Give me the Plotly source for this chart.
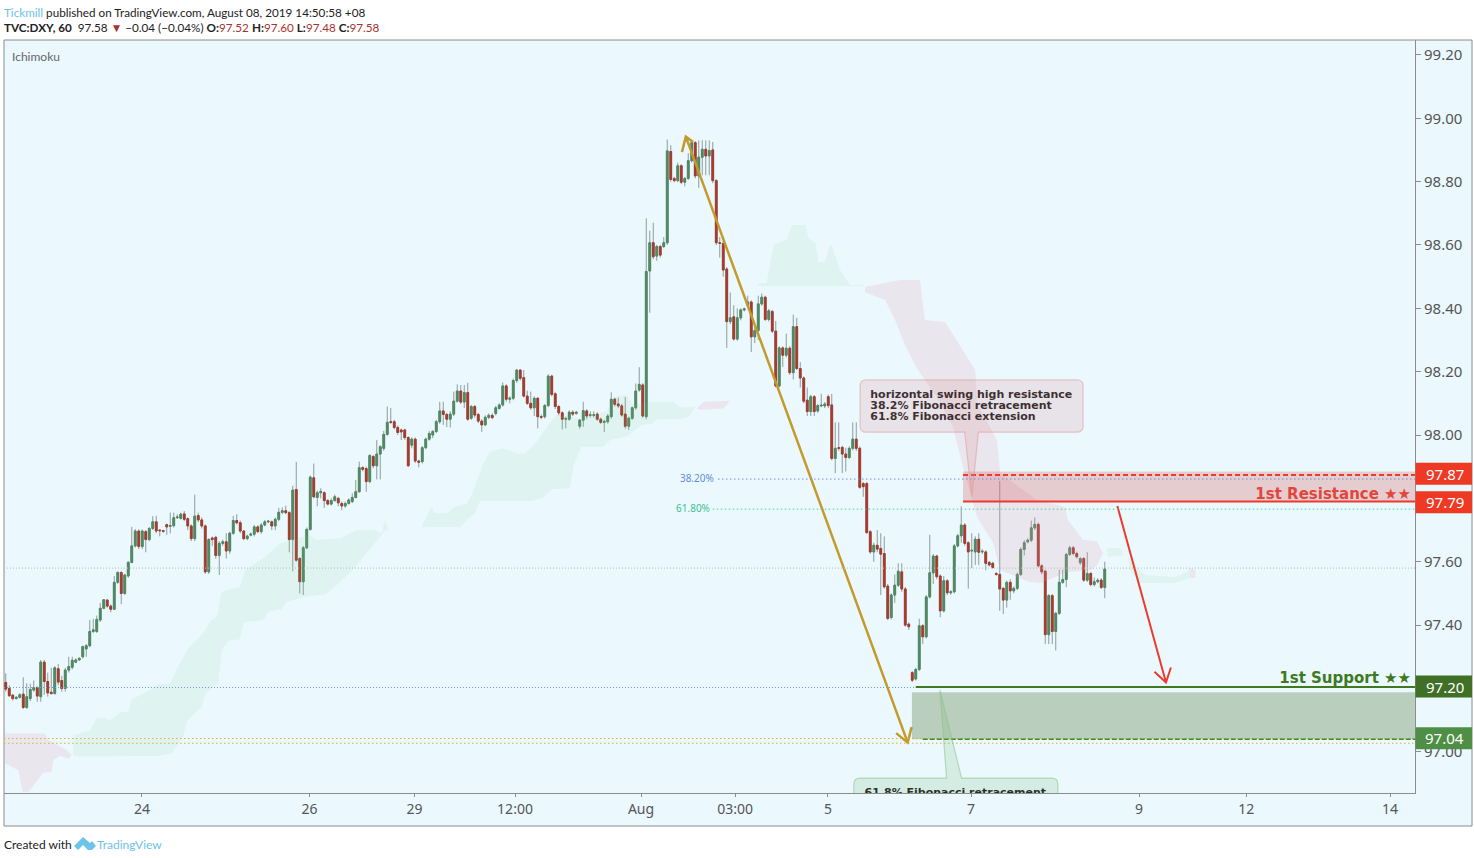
import plotly.graph_objects as go

W, H = 1474, 858
PL, PR, PT, PB = 4, 1415, 40, 793   # plot frame in page pixels
BG = "#ebf9fe"

opens = [
97.219,97.200,97.179,97.168,97.172,97.182,97.140,97.168,97.195,97.203,
97.174,97.283,97.222,97.188,97.184,97.262,97.225,97.200,97.258,97.267,
97.283,97.290,97.300,97.325,97.335,97.380,97.380,97.416,97.453,97.479,
97.460,97.450,97.535,97.566,97.500,97.555,97.598,97.650,97.697,97.648,
97.695,97.670,97.705,97.726,97.700,97.698,97.717,97.712,97.714,97.739,
97.737,97.751,97.736,97.713,97.673,97.746,97.732,97.713,97.568,97.675,
97.677,97.620,97.658,97.663,97.634,97.690,97.730,97.723,97.697,97.673,
97.684,97.687,97.710,97.695,97.716,97.726,97.726,97.713,97.734,97.756,
97.761,97.755,97.670,97.828,97.610,97.537,97.644,97.702,97.865,97.803,
97.818,97.818,97.793,97.782,97.793,97.800,97.784,97.776,97.784,97.790,
97.803,97.821,97.897,97.894,97.853,97.932,97.903,97.940,97.958,98.002,
98.042,98.042,98.024,98.016,98.016,97.992,97.968,97.987,97.918,97.916,
97.960,97.987,98.000,98.011,98.042,98.076,98.065,98.050,98.066,98.107,
98.139,98.104,98.134,98.053,98.090,98.065,98.044,98.032,98.056,98.062,
98.068,98.084,98.095,98.155,98.113,98.116,98.172,98.205,98.181,98.123,
98.100,98.086,98.116,98.058,98.058,98.093,98.186,98.130,98.090,98.070,
98.050,98.050,98.072,98.068,98.028,98.047,98.076,98.062,98.062,98.066,
98.050,98.040,98.042,98.058,98.113,98.098,98.092,98.066,98.028,98.053,
98.086,98.142,98.158,98.058,98.518,98.607,98.565,98.595,98.595,98.607,
98.895,98.810,98.803,98.850,98.798,98.810,98.866,98.923,98.818,98.877,
98.902,98.881,98.900,98.803,98.607,98.605,98.524,98.358,98.373,98.303,
98.370,98.395,98.410,98.420,98.310,98.330,98.414,98.435,98.365,98.390,
98.328,98.155,98.275,98.252,98.274,98.197,98.342,98.210,98.180,98.110,
98.074,98.121,98.076,98.092,98.092,98.121,98.095,97.926,97.960,97.961,
97.940,97.929,97.958,97.987,97.958,97.847,97.847,97.695,97.631,97.652,
97.642,97.626,97.523,97.424,97.495,97.526,97.568,97.514,97.403,97.250,
97.230,97.260,97.398,97.363,97.489,97.565,97.618,97.555,97.445,97.540,
97.502,97.505,97.650,97.682,97.716,97.660,97.634,97.631,97.671,97.631,
97.631,97.598,97.595,97.563,97.560,97.516,97.479,97.535,97.508,97.516,
97.560,97.639,97.663,97.668,97.707,97.718,97.587,97.570,97.370,97.493,
97.380,97.437,97.535,97.544,97.623,97.644,97.626,97.597,97.610,97.542,
97.563,97.528,97.537,97.542,97.519]

closes = [
97.198,97.177,97.168,97.172,97.180,97.140,97.174,97.197,97.203,97.176,
97.283,97.222,97.186,97.184,97.265,97.220,97.200,97.258,97.269,97.289,
97.290,97.295,97.332,97.335,97.380,97.385,97.418,97.453,97.480,97.460,
97.450,97.535,97.566,97.500,97.558,97.598,97.650,97.697,97.648,97.697,
97.670,97.705,97.726,97.697,97.698,97.696,97.710,97.714,97.739,97.741,
97.750,97.734,97.713,97.673,97.744,97.732,97.713,97.568,97.670,97.670,
97.620,97.658,97.663,97.634,97.690,97.730,97.723,97.697,97.673,97.681,
97.687,97.710,97.695,97.716,97.726,97.728,97.713,97.734,97.756,97.761,
97.755,97.670,97.826,97.605,97.537,97.644,97.702,97.867,97.805,97.818,
97.822,97.793,97.782,97.793,97.805,97.786,97.776,97.784,97.795,97.803,
97.821,97.897,97.892,97.853,97.935,97.903,97.940,97.963,98.002,98.040,
98.040,98.024,98.008,98.010,97.992,97.903,97.987,97.918,97.914,97.960,
97.987,98.005,98.011,98.042,98.076,98.065,98.050,98.066,98.107,98.139,
98.104,98.134,98.050,98.090,98.063,98.044,98.032,98.056,98.062,98.055,
98.086,98.095,98.155,98.113,98.116,98.172,98.205,98.179,98.123,98.100,
98.086,98.116,98.058,98.056,98.093,98.186,98.128,98.090,98.070,98.050,
98.052,98.072,98.066,98.072,98.047,98.077,98.060,98.064,98.064,98.050,
98.040,98.043,98.060,98.113,98.097,98.092,98.063,98.028,98.053,98.086,
98.139,98.160,98.060,98.516,98.607,98.563,98.595,98.568,98.607,98.897,
98.807,98.803,98.850,98.798,98.810,98.866,98.923,98.818,98.877,98.902,
98.881,98.898,98.803,98.607,98.605,98.521,98.358,98.370,98.303,98.370,
98.395,98.398,98.420,98.310,98.330,98.414,98.435,98.365,98.392,98.328,
98.155,98.275,98.252,98.274,98.197,98.342,98.210,98.180,98.107,98.074,
98.121,98.074,98.093,98.094,98.098,98.093,97.926,97.958,97.958,97.940,
97.929,97.958,97.987,97.958,97.835,97.837,97.692,97.631,97.652,97.640,
97.624,97.521,97.421,97.495,97.526,97.570,97.514,97.400,97.395,97.226,
97.260,97.398,97.363,97.489,97.565,97.618,97.553,97.445,97.540,97.502,
97.505,97.650,97.682,97.716,97.658,97.631,97.636,97.671,97.630,97.633,
97.595,97.590,97.582,97.560,97.514,97.479,97.535,97.508,97.516,97.560,
97.639,97.660,97.668,97.707,97.718,97.587,97.568,97.370,97.493,97.380,
97.437,97.535,97.544,97.623,97.644,97.626,97.616,97.610,97.542,97.563,
97.528,97.537,97.542,97.519,97.577]

highs = [
97.248,97.210,97.182,97.176,97.185,97.235,97.216,97.215,97.225,97.208,
97.290,97.290,97.250,97.265,97.270,97.277,97.240,97.265,97.300,97.300,
97.295,97.298,97.335,97.340,97.416,97.420,97.430,97.470,97.482,97.482,
97.465,97.555,97.570,97.570,97.562,97.602,97.710,97.703,97.702,97.702,
97.700,97.710,97.744,97.745,97.703,97.700,97.720,97.755,97.755,97.750,
97.755,97.760,97.740,97.718,97.812,97.755,97.740,97.718,97.675,97.680,
97.682,97.665,97.670,97.690,97.695,97.745,97.750,97.730,97.700,97.685,
97.692,97.716,97.715,97.722,97.732,97.732,97.730,97.740,97.770,97.772,
97.777,97.760,97.840,97.915,97.615,97.650,97.708,97.872,97.910,97.825,
97.832,97.822,97.798,97.800,97.812,97.805,97.790,97.790,97.800,97.816,
97.858,97.916,97.902,97.900,97.940,97.937,97.984,97.968,98.013,98.090,
98.085,98.048,98.030,98.020,98.020,97.996,97.992,97.992,97.922,97.965,
97.992,98.012,98.016,98.048,98.105,98.105,98.070,98.075,98.137,98.160,
98.158,98.158,98.165,98.095,98.095,98.070,98.050,98.062,98.068,98.068,
98.092,98.100,98.166,98.160,98.122,98.178,98.208,98.208,98.205,98.140,
98.137,98.122,98.120,98.065,98.098,98.192,98.190,98.135,98.095,98.075,
98.058,98.078,98.078,98.076,98.050,98.105,98.082,98.075,98.075,98.072,
98.055,98.048,98.066,98.135,98.118,98.118,98.098,98.120,98.058,98.090,
98.163,98.214,98.164,98.684,98.645,98.670,98.600,98.600,98.625,98.933,
98.915,98.815,98.860,98.855,98.815,98.890,98.930,98.928,98.930,98.930,
98.930,98.930,98.925,98.808,98.625,98.625,98.530,98.450,98.410,98.400,
98.400,98.402,98.440,98.425,98.340,98.440,98.447,98.440,98.398,98.395,
98.360,98.280,98.280,98.320,98.280,98.380,98.370,98.230,98.185,98.150,
98.127,98.126,98.098,98.130,98.104,98.128,98.130,98.040,98.040,97.966,
97.960,97.964,98.040,98.040,97.964,97.852,97.852,97.700,97.660,97.700,
97.690,97.680,97.530,97.500,97.560,97.595,97.595,97.520,97.408,97.255,
97.265,97.420,97.403,97.495,97.685,97.624,97.622,97.560,97.555,97.545,
97.510,97.656,97.688,97.775,97.722,97.665,97.690,97.680,97.690,97.640,
97.636,97.602,97.600,97.567,97.855,97.520,97.540,97.545,97.522,97.566,
97.645,97.668,97.674,97.730,97.740,97.724,97.592,97.575,97.498,97.498,
97.442,97.575,97.575,97.628,97.650,97.650,97.632,97.615,97.615,97.630,
97.568,97.550,97.548,97.548,97.600]

lows = [
97.190,97.174,97.162,97.165,97.168,97.135,97.135,97.160,97.190,97.158,
97.158,97.180,97.174,97.180,97.180,97.210,97.190,97.190,97.250,97.260,
97.280,97.287,97.295,97.300,97.330,97.375,97.375,97.410,97.450,97.455,
97.440,97.448,97.530,97.466,97.495,97.550,97.595,97.645,97.640,97.640,
97.630,97.665,97.700,97.690,97.680,97.692,97.685,97.690,97.708,97.735,
97.733,97.728,97.700,97.665,97.665,97.725,97.705,97.562,97.562,97.650,
97.610,97.558,97.650,97.610,97.625,97.685,97.718,97.690,97.668,97.668,
97.680,97.680,97.690,97.688,97.712,97.722,97.700,97.700,97.728,97.750,
97.750,97.630,97.570,97.600,97.500,97.495,97.640,97.698,97.800,97.775,
97.800,97.770,97.778,97.778,97.790,97.775,97.763,97.770,97.780,97.785,
97.800,97.818,97.885,97.821,97.848,97.895,97.860,97.860,97.950,97.998,
98.035,98.018,98.000,97.984,97.985,97.900,97.958,97.912,97.898,97.910,
97.955,97.982,97.990,98.006,98.036,98.032,98.025,98.024,98.060,98.102,
98.098,98.085,98.045,98.048,98.055,98.038,98.010,98.028,98.050,98.050,
98.062,98.080,98.090,98.105,98.100,98.110,98.165,98.172,98.118,98.095,
98.080,98.060,98.021,98.050,98.052,98.088,98.122,98.082,98.062,98.018,
98.021,98.045,98.060,98.064,98.020,98.026,98.050,98.055,98.055,98.045,
98.035,98.010,98.036,98.052,98.090,98.085,98.058,98.020,98.016,98.048,
98.080,98.137,98.055,98.050,98.386,98.555,98.550,98.560,98.590,98.600,
98.800,98.798,98.798,98.792,98.785,98.805,98.860,98.810,98.780,98.820,
98.820,98.820,98.795,98.600,98.560,98.500,98.275,98.350,98.298,98.298,
98.362,98.390,98.405,98.262,98.290,98.300,98.408,98.360,98.358,98.322,
98.150,98.150,98.215,98.245,98.190,98.175,98.205,98.150,98.100,98.060,
98.060,98.060,98.070,98.088,98.085,98.085,97.920,97.880,97.950,97.880,
97.885,97.924,97.952,97.950,97.830,97.805,97.688,97.625,97.600,97.630,
97.495,97.515,97.416,97.418,97.470,97.520,97.505,97.395,97.385,97.220,
97.225,97.255,97.340,97.358,97.484,97.530,97.545,97.425,97.440,97.495,
97.496,97.500,97.645,97.660,97.650,97.515,97.580,97.590,97.590,97.625,
97.573,97.585,97.578,97.556,97.445,97.435,97.455,97.480,97.500,97.510,
97.555,97.620,97.658,97.662,97.700,97.582,97.560,97.340,97.340,97.340,
97.320,97.432,97.530,97.520,97.618,97.620,97.610,97.590,97.536,97.536,
97.522,97.522,97.532,97.514,97.485]

bars = list(range(len(closes)))

y_ticks = [97.0, 97.2, 97.4, 97.6, 97.8, 98.0, 98.2, 98.4, 98.6, 98.8, 99.0, 99.2]
y_tick_labels = ["97.00", "", "97.40", "97.60", "", "98.00", "98.20", "98.40", "98.60", "98.80", "99.00", "99.20"]
x_ticks = [38.9, 86.8, 116.8, 145.5, 181.5, 208.4, 234.9, 275.8, 323.8, 354.4, 395.5]
x_tick_labels = ["24", "26", "29", "12:00", "Aug", "03:00", "5", "7", "9", "12", "14"]

# Ichimoku cloud outlines: bar position and price
green1_x = [19.3,24.1,26.0,28.4,29.8,32.6,35.0,36.0,40.7,43.6,47.0,49.8,52.2,56.5,58.4,60.3,61.7,66.9,68.4,73.6,78.4,86.5,88.8,95.5,100.3,105,107.4,108.4,109.3,111.2,
            108.4,105.5,99.8,95.5,93.6,91.2,86,80.3,78.8,75,73.6,67.9,66.9,63.6,61.7,60.7,57,56,51.7,50.7,47.4,43.1,21.2,19.3]
green1_y = [97.053,97.067,97.106,97.106,97.098,97.123,97.127,97.166,97.192,97.214,97.216,97.281,97.327,97.374,97.411,97.427,97.505,97.521,97.574,97.611,97.658,97.684,97.669,97.674,97.70,97.70,97.69,97.732,97.70,97.70,
            97.70,97.659,97.583,97.536,97.516,97.497,97.49,97.474,97.45,97.442,97.416,97.408,97.355,97.351,97.321,97.216,97.184,97.142,97.095,97.048,96.995,96.987,96.985,96.99]
green2_x = [118.8,121.7,122.6,126,128.4,131.7,133.1,136.5,138.4,142.2,146,148.4,151.7,155,157.4,164,171.7,174.5,177.4,179.3,184.5,190.7,192.7,197,
            195.1,192.6,186,185,181.7,177.4,172.6,170.7,164.5,162.2,161.2,156,153.6,150.3,135.5,134.1,132.2,129.8,118.8]
green2_y = [97.711,97.774,97.753,97.753,97.774,97.784,97.811,97.911,97.947,97.958,97.942,97.942,97.979,98.032,98.063,98.053,98.074,98.123,98.126,98.095,98.105,98.105,98.087,98.09,
            98.058,98.05,98.05,98.037,98.032,97.995,97.984,97.963,97.963,97.905,97.832,97.829,97.803,97.792,97.792,97.753,97.737,97.709,97.709]
green3_x = [215,217.4,219.4,223.2,224.6,228.4,229.4,231.3,232.2,234.1,235.3,236,238.4,241.3,245.1,245.1,215]
green3_y = [98.479,98.479,98.60,98.618,98.663,98.663,98.621,98.607,98.547,98.547,98.597,98.597,98.521,98.474,98.474,98.47,98.47]
green4_x = [314.6,318.4,319.5,314.9]
green4_y = [97.643,97.643,97.621,97.615]
green5_x = [320.6,322.6,325.5,334.1,335.5,337.5,338.4,338.4,334.1,324.1,321.2]
green5_y = [97.615,97.59,97.558,97.552,97.558,97.567,97.58,97.549,97.533,97.533,97.574]
pink1_x = [-0.2,11.2,12.2,17.4,18.8,17.9,15.5,13.6,13.1,10.7,8.8,6.5,4.8,3.6,-0.2]
pink1_y = [97.058,97.058,97.037,97.006,96.99,96.979,96.987,96.974,96.937,96.934,96.906,96.874,96.874,96.942,96.963]
pink2_x = [197.4,199.4,207,205.1,198.4]
pink2_y = [98.084,98.105,98.108,98.084,98.08]
pink3_x = [245.5,255.5,261.2,262.6,268.4,272.6,277,277.5,283.2,284.1,294.6,302.6,303.5,307.8,311.8,313.5,311.8,310.1,302.9,296,292.6,284.1,282.1,277.5,273.5,270.6,266,260.6,256.9,254.1,251.2,245.5]
pink3_y = [98.467,98.489,98.489,98.363,98.357,98.284,98.205,98.101,97.984,97.88,97.795,97.773,97.732,97.669,97.665,97.627,97.59,97.574,97.567,97.533,97.536,97.574,97.659,97.741,97.899,98.025,98.12,98.205,98.284,98.363,98.426,98.451]
pink4_x = [338.4,339.9,339.9,338.4]
pink4_y = [97.58,97.574,97.549,97.549]

# Levels
last_price = 97.58
fib_swing_low = 97.203
gold_levels = [97.042, 97.027]
fib_382 = 97.861
fib_618 = 97.766
res_top, res_bottom, res_dash = 97.885, 97.79, 97.874
sup_top, sup_bottom, sup_line, sup_dash = 97.188, 97.04, 97.205, 97.04

# Drawn trend arrows
gold_x = [193.2, 194.3, 196.4, None, 194.3, 257.7, None, 254.4, 257.7, 258.8]
gold_y = [98.893, 98.942, 98.925, None, 98.942, 97.029, None, 97.059, 97.029, 97.078]
red_x = [317.6, 331.5, None, 328.2, 331.5, 332.9]
red_y = [97.776, 97.219, None, 97.253, 97.219, 97.266]

callout_lines = ["horizontal swing high resistance", "38.2% Fibonacci retracement", "61.8% Fibonacci extension"]
callout_prices = [98.125, 98.091, 98.056]

XR = [-0.5, (PR - PL) / 3.5 - 0.5]
YR = [96.87, 99.247]


def px(v):
    return v / W


def py(v):
    return 1 - v / H


fig = go.Figure()


def cloud(x, y, color):
    fig.add_trace(go.Scatter(x=x, y=y, mode="lines", fill="toself", fillcolor=color,
                             line=dict(width=0), hoverinfo="skip"))


CG, CP = "rgba(120,200,130,0.105)", "rgba(235,150,170,0.19)"
cloud(green1_x, green1_y, CG)
cloud(green2_x, green2_y, CG)
cloud(green3_x, green3_y, CG)
cloud(green4_x, green4_y, CG)
cloud(green5_x, green5_y, CG)
cloud(pink1_x, pink1_y, CP)
cloud(pink2_x, pink2_y, CP)
cloud(pink3_x, pink3_y, CP)
cloud(pink4_x, pink4_y, CP)

# wicks
WICK = "rgba(105,115,112,0.7)"
fig.add_trace(go.Candlestick(x=bars, open=opens, high=highs, low=lows, close=closes,
                             increasing=dict(line=dict(color=WICK, width=1), fillcolor=WICK),
                             decreasing=dict(line=dict(color=WICK, width=1), fillcolor=WICK),
                             whiskerwidth=0))
# bodies
body_hi = [max(o, c) for o, c in zip(opens, closes)]
body_lo = [min(o, c) for o, c in zip(opens, closes)]
fig.add_trace(go.Candlestick(x=bars, open=opens, high=body_hi, low=body_lo, close=closes,
                             increasing=dict(line=dict(color="#4f8a63", width=1), fillcolor="#4f8a63"),
                             decreasing=dict(line=dict(color="#a63c2e", width=1), fillcolor="#a63c2e"),
                             whiskerwidth=0))

fig.add_trace(go.Scatter(x=gold_x, y=gold_y, mode="lines", line=dict(color="#c49a2b", width=2.5), hoverinfo="skip"))
fig.add_trace(go.Scatter(x=red_x, y=red_y, mode="lines", line=dict(color="#ee3a2c", width=2), hoverinfo="skip"))

shapes = []
# panel background and frame
shapes.append(dict(type="rect", xref="paper", yref="paper", x0=px(PL), x1=px(1472), y0=py(826), y1=py(PT),
                   fillcolor=BG, line=dict(color="#8c8c8c", width=1), layer="below"))


def hline(y, x0, color, dash, width=1, layer="above"):
    shapes.append(dict(type="line", xref="x", yref="y", x0=x0, x1=XR[1], y0=y, y1=y,
                       line=dict(color=color, width=width, dash=dash), layer=layer))


shapes.append(dict(type="rect", xref="x", yref="y", x0=273.5, x1=XR[1], y0=res_bottom, y1=res_top,
                   fillcolor="rgba(215,100,100,0.3)", line=dict(width=0), layer="above"))
shapes.append(dict(type="rect", xref="x", yref="y", x0=258.9, x1=XR[1], y0=sup_bottom, y1=sup_top,
                   fillcolor="rgba(70,105,35,0.3)", line=dict(width=0), layer="above"))
hline(last_price, XR[0], "#a9c4b0", "1px,2px")
hline(fib_swing_low, XR[0], "#6f9fd8", "1px,2px")
hline(gold_levels[0], XR[0], "#d9b33c", "1.5px,2.5px")
hline(gold_levels[1], XR[0], "#d9b33c", "1.5px,2.5px")
hline(fib_382, 203.5, "#6f8fd8", "1.5px,2.5px")
hline(fib_618, 202, "#4cc79a", "1.5px,2.5px")
hline(res_dash, 273.5, "#ee3a2c", "5px,3px", 2)
hline(res_bottom, 273.5, "#ee3a2c", "solid", 2)
hline(sup_line, 260, "#3f7a22", "solid", 2)
hline(sup_dash, 262, "#3f8a32", "5px,2px", 1.5)


def callout(x0, x1, top, bottom, base0, base1, tipx, tipy, fill, line):
    rx, ry = 1.8, 0.019
    path = (f"M {x0+rx},{top} L {x1-rx},{top} Q {x1},{top} {x1},{top-ry} "
            f"L {x1},{bottom+ry} Q {x1},{bottom} {x1-rx},{bottom} "
            f"L {base1},{bottom} L {tipx},{tipy} L {base0},{bottom} "
            f"L {x0+rx},{bottom} Q {x0},{bottom} {x0},{bottom+ry} L {x0},{top-ry} Q {x0},{top} {x0+rx},{top} Z")
    shapes.append(dict(type="path", xref="x", yref="y", path=path, fillcolor=fill,
                       line=dict(color=line, width=1.2), layer="above"))


callout(244.1, 307.8, 98.174, 98.009, 274, 277.9, 276, 97.805, "rgba(220,150,155,0.22)", "rgba(225,150,150,0.5)")


def callout_up(x0, x1, top, bottom, base0, base1, tipx, tipy, fill, line):
    rx, ry = 1.8, 0.019
    path = (f"M {x0+rx},{top} L {base0},{top} L {tipx},{tipy} L {base1},{top} L {x1-rx},{top} "
            f"Q {x1},{top} {x1},{top-ry} L {x1},{bottom} L {x0},{bottom} L {x0},{top-ry} Q {x0},{top} {x0+rx},{top} Z")
    shapes.append(dict(type="path", xref="x", yref="y", path=path, fillcolor=fill,
                       line=dict(color=line, width=1.2), layer="above"))


callout_up(242.3, 300.6, 96.917, 96.70, 268.8, 273.1, 266.9, 97.195, "rgba(120,185,120,0.2)", "rgba(140,195,130,0.55)")

annotations = []
TAG_H = 0.0695
tags = [("97.87", "#ee3a24", 97.878), ("97.79", "#ee3a24", 97.788),
        ("97.20", "#3f7025", 97.206), ("97.04", "#4f8f45", 97.043)]
for txt, col, ypos in tags:
    shapes.append(dict(type="rect", xref="paper", yref="y", x0=px(1415.5), x1=px(1472), y0=ypos - TAG_H / 2, y1=ypos + TAG_H / 2,
                       fillcolor=col, line=dict(width=0), layer="above"))
    annotations.append(dict(xref="paper", yref="y", x=px(1444.5), y=ypos, text=txt, showarrow=False,
                            font=dict(family="Noto Sans", size=15, color="white"), xanchor="center", yanchor="middle"))

# callout and level text, clipped by the plot area
fig.add_trace(go.Scatter(x=[247.0] * 3, y=callout_prices, text=callout_lines, mode="text", textposition="middle right",
                         textfont=dict(family="DejaVu Sans", size=11, color="#111111", weight="bold"), hoverinfo="skip"))
fig.add_trace(go.Scatter(x=[271.3], y=[96.87], text=["61.8% Fibonacci retracement"], mode="text", textposition="middle center",
                         textfont=dict(family="DejaVu Sans", size=11, color="#111111", weight="bold"), hoverinfo="skip"))
fig.add_trace(go.Scatter(x=[401.5], y=[97.81], text=["1st Resistance ★★"], mode="text", textposition="middle left",
                         textfont=dict(family="DejaVu Sans", size=15, color="#e5392c", weight="bold"), hoverinfo="skip"))
fig.add_trace(go.Scatter(x=[401.5], y=[97.229], text=["1st Support ★★"], mode="text", textposition="middle left",
                         textfont=dict(family="DejaVu Sans", size=15, color="#3f7a22", weight="bold"), hoverinfo="skip"))
fig.add_trace(go.Scatter(x=[202.3], y=[fib_382], text=["38.20%"], mode="text", textposition="middle left",
                         textfont=dict(family="Noto Sans", size=10, color="#5b8fd6"), hoverinfo="skip"))
fig.add_trace(go.Scatter(x=[201.2], y=[fib_618], text=["61.80%"], mode="text", textposition="middle left",
                         textfont=dict(family="Noto Sans", size=10, color="#3fbf92"), hoverinfo="skip"))

BLUE, RED, INK = "#6ec3e8", "#a83232", "#222222"


def page_text(x, y, text, size=12, color=INK):
    annotations.append(dict(xref="paper", yref="paper", x=px(x), y=py(y), text=text, showarrow=False, xanchor="left",
                            yanchor="middle", font=dict(family="Lato", size=size, color=color)))


page_text(2, 12, f'<span style="color:{BLUE}">Tickmill</span> published on TradingView.com, August 08, 2019 14:50:58 +08', 11.7)
page_text(2, 27, f'<b>TVC:DXY, 60</b>  97.58 <span style="color:{RED}"><b>▼</b></span> −0.04 (−0.04%) <b>O:</b><span style="color:{RED}">97.52</span> '
                 f'<b>H:</b><span style="color:{RED}">97.60</span> <b>L:</b><span style="color:{RED}">97.48</span> <b>C:</b><span style="color:{RED}">97.58</span>', 11.7)
page_text(10, 56, "Ichimoku", 12, "#666666")
page_text(2, 844, "Created with", 12)
page_text(95, 844, "TradingView", 12, BLUE)
shapes.append(dict(type="path", xref="paper", yref="paper", layer="above", fillcolor=BLUE, line=dict(width=0),
                   path=(f"M {px(74)},{py(846)} L {px(83)},{py(837)} L {px(90)},{py(843)} L {px(92)},{py(841)} L {px(96)},{py(846)} "
                         f"L {px(92)},{py(850)} L {px(88)},{py(850)} L {px(83)},{py(845)} L {px(78)},{py(850)} Z")))

fig.update_layout(
    width=W, height=H, margin=dict(l=0, r=0, t=0, b=0), showlegend=False,
    paper_bgcolor="white", plot_bgcolor=BG, shapes=shapes, annotations=annotations,
    xaxis=dict(domain=[px(PL), px(PR)], range=XR, rangeslider=dict(visible=False), tickmode="array",
               tickvals=x_ticks, ticktext=x_tick_labels, showgrid=False, zeroline=False, showline=True,
               linecolor="#8c8c8c", ticks="outside", ticklen=3, tickcolor="#8c8c8c",
               tickfont=dict(family="Noto Sans", size=14, color="#555555")),
    yaxis=dict(domain=[py(PB), py(PT)], range=YR, side="right", tickmode="array", tickvals=y_ticks,
               ticktext=y_tick_labels, showgrid=False, zeroline=False, showline=True, linecolor="#8c8c8c",
               ticks="outside", ticklen=5, tickcolor="#8c8c8c",
               tickfont=dict(family="Noto Sans", size=15, color="#555555")),
)
fig.write_html("out.html", config={"displayModeBar": False},
               post_script="document.body.style.margin='0';")
